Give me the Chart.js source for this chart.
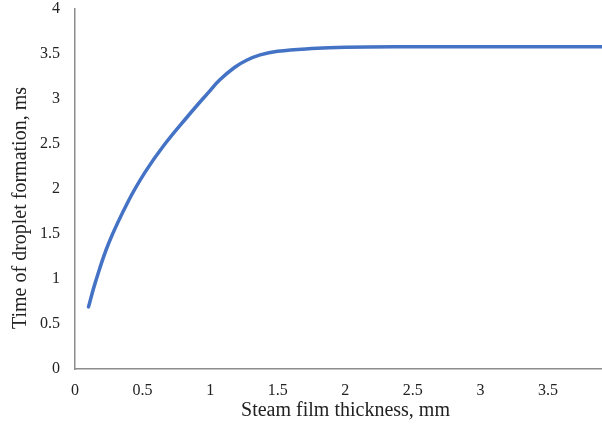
<!DOCTYPE html>
<html>
<head>
<meta charset="utf-8">
<script src="https://cdn.jsdelivr.net/npm/chart.js@4"></script>
<style>
html,body{margin:0;padding:0;background:#fff;}
#wrap{width:602px;height:427px;position:relative;}
</style>
</head>
<body>
<div id="wrap"><canvas id="c" width="602" height="427"></canvas></div>
<script>
const thickness = [0.1, 0.15, 0.25, 0.4, 0.52, 0.65, 0.83, 0.98, 1.07, 1.18, 1.27, 1.37, 1.5, 1.75, 2.0, 2.5, 3.0, 3.5, 3.9];
const formationTime = [0.69, 0.96, 1.40, 1.88, 2.19, 2.47, 2.80, 3.06, 3.21, 3.35, 3.43, 3.49, 3.53, 3.56, 3.575, 3.58, 3.58, 3.58, 3.58];
const xTicks = [0, 0.5, 1, 1.5, 2, 2.5, 3, 3.5];
const yTicks = [0, 0.5, 1, 1.5, 2, 2.5, 3, 3.5, 4];
const xTitle = 'Steam film thickness, mm';
const yTitle = 'Time of droplet formation, ms';

const pts = thickness.map((x, i) => ({x: x, y: formationTime[i]}));
const fam = '"Liberation Serif", "Times New Roman", serif';
const tickFont = {family: fam, size: 16};

// axis titles, placed like the reference (slightly off-centre)
const axisTitles = {
  id: 'axisTitles',
  afterDraw(chart) {
    const ctx = chart.ctx;
    const area = chart.chartArea;
    ctx.save();
    ctx.font = '20px ' + fam;
    ctx.fillStyle = '#222';
    ctx.textAlign = 'center';
    ctx.textBaseline = 'middle';
    ctx.fillText(xTitle, (area.left + area.right) / 2 + 7, area.bottom + 42);
    ctx.translate(21, (area.top + area.bottom) / 2 + 19);
    ctx.rotate(-Math.PI / 2);
    ctx.fillText(yTitle, 0, 0);
    ctx.restore();
  }
};

new Chart(document.getElementById('c'), {
  type: 'line',
  data: {
    datasets: [{
      data: pts,
      borderColor: '#4472C4',
      borderWidth: 3.5,
      pointRadius: 0,
      fill: false,
      tension: 0.4,
      borderCapStyle: 'round',
      borderJoinStyle: 'round'
    }]
  },
  plugins: [axisTitles],
  options: {
    responsive: false,
    animation: false,
    layout: {padding: {top: 9, right: 0, left: 0, bottom: 0}},
    plugins: {legend: {display: false}, tooltip: {enabled: false}},
    scales: {
      x: {
        type: 'linear',
        min: 0, max: 3.9,
        afterBuildTicks: s => { s.ticks = xTicks.map(v => ({value: v})); },
        afterFit: s => { s.height = 58; s.paddingLeft = 0; s.paddingRight = 0; },
        grid: {display: false},
        border: {display: true, color: '#8c8c8c', width: 1.5},
        ticks: {color: '#222', font: tickFont, padding: 4, maxRotation: 0, autoSkip: false,
          callback: v => String(v)},
        title: {display: false, text: xTitle}
      },
      y: {
        type: 'linear',
        min: 0, max: 4,
        afterBuildTicks: s => { s.ticks = yTicks.map(v => ({value: v})); },
        afterFit: s => { s.width = 75; s.paddingTop = 0; s.paddingBottom = 0; },
        grid: {display: false},
        border: {display: true, color: '#8c8c8c', width: 1.5},
        ticks: {color: '#222', font: tickFont, padding: 7, autoSkip: false,
          callback: v => String(v)},
        title: {display: false, text: yTitle}
      }
    }
  }
});
</script>
</body>
</html>
